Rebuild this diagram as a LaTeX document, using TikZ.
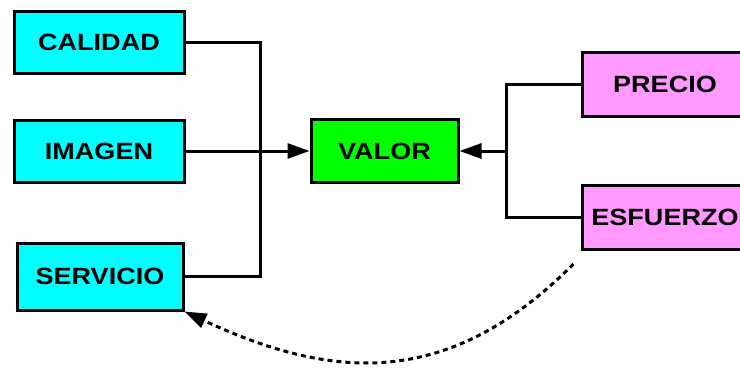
\documentclass[tikz,border=0pt]{standalone}
\usepackage{fontspec}
\setmainfont[FakeStretch=1.15]{Liberation Sans}
\usetikzlibrary{arrows.meta, positioning, calc}
\definecolor{benefitfill}{HTML}{00FFFF}
\definecolor{valuefill}{HTML}{00FF00}
\definecolor{costfill}{HTML}{FF99FF}

\begin{document}
\begin{tikzpicture}[
        benefit/.style={
            draw,
            line width=3pt,
            minimum width=170pt,
            minimum height=62pt,
            inner sep=0pt,
            fill=benefitfill,
            font=\fontsize{23.5}{28}\selectfont\bfseries
        },
        value/.style={
            benefit,
            minimum width=147pt,
            minimum height=63pt,
            fill=valuefill
        },
        cost/.style={
            benefit,
            minimum width=166pt,
            minimum height=64pt,
            fill=costfill
        },
        joinline/.style={
            line width=3pt
        },
        joinarrow/.style={
            -{Triangle[length=22pt, width=15pt]},
            line width=3pt
        },
        returnarrow/.style={
            joinarrow,
            dash pattern=on 5pt off 4pt
        }
    ]

        \useasboundingbox (0,0) rectangle (740pt,-368pt);

        % ---------------------------------------------------------------------
        % Left column: what the customer receives
        % ---------------------------------------------------------------------

        \node[benefit] (calidad) at (99pt,-42pt) {CALIDAD};

        \node[
            benefit,
            below=44pt of calidad
        ] (imagen) {IMAGEN};

        \node[
            benefit,
            below=58pt of imagen,
            xshift=1pt,
            minimum width=166pt,
            minimum height=67pt
        ] (servicio) {SERVICIO};

        % ---------------------------------------------------------------------
        % Centre and right column: value and what it costs
        % ---------------------------------------------------------------------

        \node[
            value,
            right=124pt of imagen
        ] (valor) {VALOR};

        \node[
            cost,
            above right=0pt and 121pt of valor
        ] (precio) {PRECIO};

        \node[
            cost,
            below right=0pt and 121pt of valor
        ] (esfuerzo) {ESFUERZO};

        \coordinate (leftjoin) at ($(imagen.east)+(75pt,0)$);
        \coordinate (rightjoin) at ($(valor.east)+(47pt,0)$);
        \coordinate (returnstart) at ($(esfuerzo.south west)+(-7pt,-13pt)$);

        % ---------------------------------------------------------------------
        % Connectors
        % ---------------------------------------------------------------------

        \draw[joinline]
            (calidad.east) -| (leftjoin);

        \draw[joinline]
            (servicio.east) -| (leftjoin);

        \draw[joinarrow]
            (imagen.east) -- (valor.west);

        \draw[joinline]
            (precio.west) -| (rightjoin);

        \draw[joinline]
            (esfuerzo.west) -| (rightjoin);

        \draw[joinarrow]
            (rightjoin) -- (valor.east);

        % Dashed return from the cost side back to the service.
        \draw[returnarrow]
            (returnstart)
            to[out=-135, in=-25, looseness=1.12]
            (servicio.south east);

    \end{tikzpicture}
\end{document}
